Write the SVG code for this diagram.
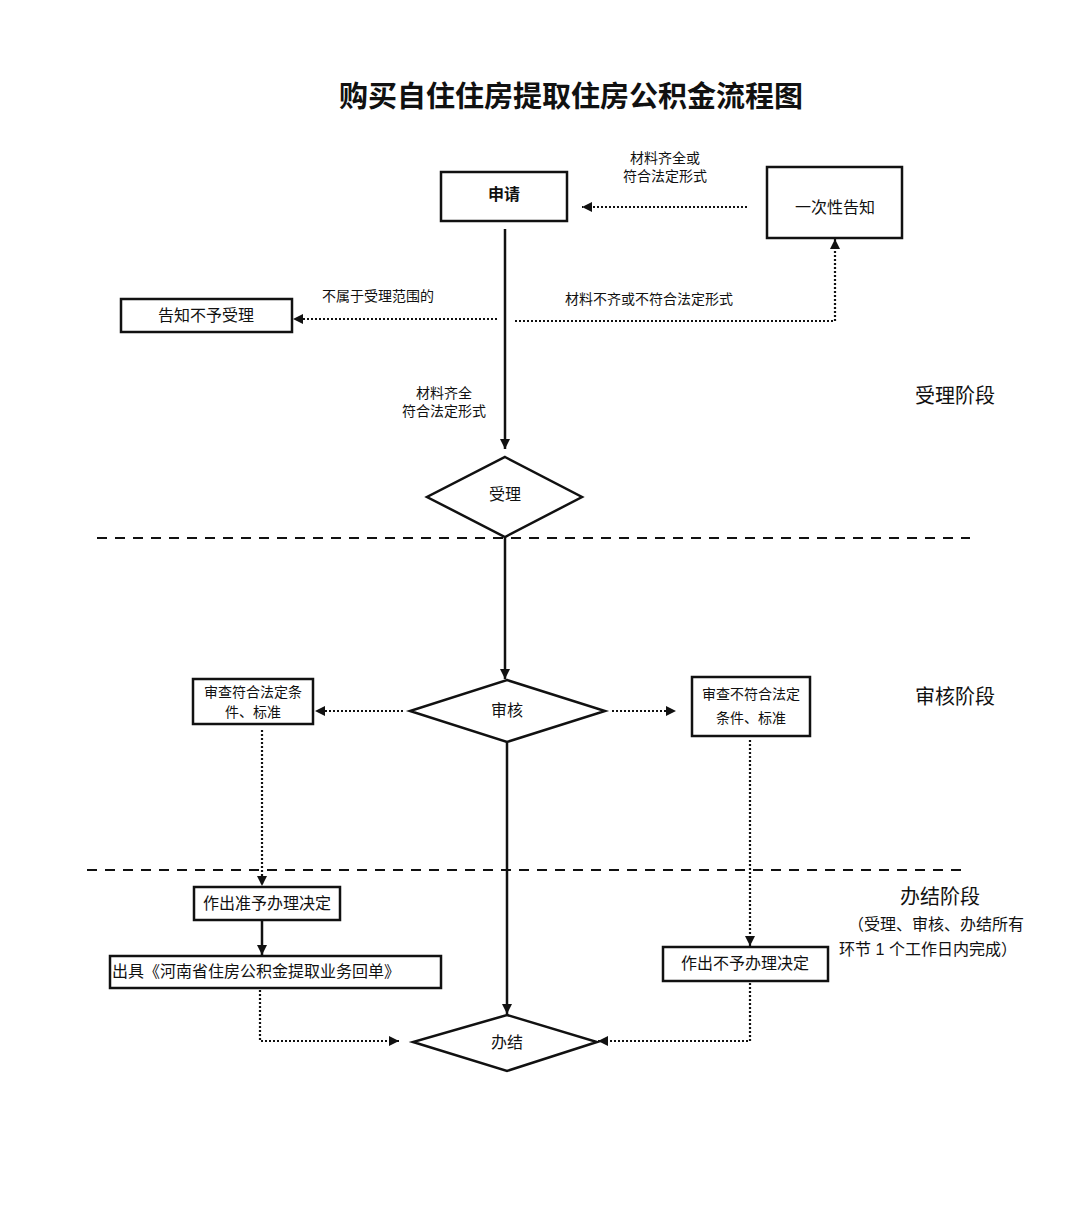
<svg xmlns="http://www.w3.org/2000/svg" width="1080" height="1220" viewBox="0 0 1080 1220">
<style>
text{font-family:"Liberation Sans","Noto Sans CJK SC",sans-serif;fill:#111;text-anchor:middle;dominant-baseline:central}
.box{fill:#fff;stroke:#111;stroke-width:2.5}
.dia{fill:#fff;stroke:#111;stroke-width:2.5}
.solid{fill:none;stroke:#111;stroke-width:2.5}
.dot{fill:none;stroke:#111;stroke-width:2.2;stroke-dasharray:2 2}
.dash{fill:none;stroke:#111;stroke-width:2.2;stroke-dasharray:10 8}
.t{font-size:16px}
.m{font-size:14px}
.s{font-size:14px}
.ph{font-size:20px}
</style>
<defs>
<marker id="ah" viewBox="0 0 10 10" refX="10" refY="5" markerWidth="10" markerHeight="10" markerUnits="userSpaceOnUse" orient="auto">
<path d="M0,0 L10,5 L0,10 z" fill="#111"/>
</marker>
</defs>
<rect width="1080" height="1220" fill="#fff"/>
<text x="571" y="97" style="font-size:29px;font-weight:bold">购买自住住房提取住房公积金流程图</text>

<g id="phases">
<path class="dash" d="M97,538 H970"/>
<path class="dash" d="M87,870 H965"/>
<text class="ph" x="955" y="396">受理阶段</text>
<text class="ph" x="955" y="697">审核阶段</text>
<text class="ph" x="940" y="897">办结阶段</text>
<text class="t" x="936" y="924">（受理、审核、办结所有</text>
<text class="t" x="928" y="949">环节 1 个工作日内完成）</text>
</g>

<g id="connectors">
<path class="solid" d="M505,229 V449" marker-end="url(#ah)"/>
<path class="dot" d="M747,207 H582" marker-end="url(#ah)"/>
<path class="dot" d="M497,319 H293" marker-end="url(#ah)"/>
<path class="dot" d="M515,321 H835 V239" marker-end="url(#ah)"/>
<path class="solid" d="M505,537 V679" marker-end="url(#ah)"/>
<path class="dot" d="M403,711 H315" marker-end="url(#ah)"/>
<path class="dot" d="M612,711 H676" marker-end="url(#ah)"/>
<path class="dot" d="M262,730 V886" marker-end="url(#ah)"/>
<path class="solid" d="M262,920 V955" marker-end="url(#ah)"/>
<path class="dot" d="M260,990 V1041 H399" marker-end="url(#ah)"/>
<path class="solid" d="M507,742 V1014" marker-end="url(#ah)"/>
<path class="dot" d="M750,740 V946" marker-end="url(#ah)"/>
<path class="dot" d="M750,983 V1041 H598" marker-end="url(#ah)"/>
<text class="s" x="665" y="158">材料齐全或</text>
<text class="s" x="665" y="176">符合法定形式</text>
<text class="s" x="378" y="296">不属于受理范围的</text>
<text class="s" x="649" y="299">材料不齐或不符合法定形式</text>
<text class="s" x="444" y="393">材料齐全</text>
<text class="s" x="444" y="411">符合法定形式</text>
</g>

<g id="n-apply">
<rect class="box" x="441" y="172" width="126" height="49"/>
<text class="t" x="504" y="194" style="font-weight:bold">申请</text>
</g>
<g id="n-notice">
<rect class="box" x="767" y="167" width="135" height="71"/>
<text class="t" x="835" y="207">一次性告知</text>
</g>
<g id="n-reject">
<rect class="box" x="121" y="299" width="171" height="33"/>
<text class="t" x="206" y="315">告知不予受理</text>
</g>
<g id="n-accept">
<polygon class="dia" points="505,457 582,497 505,537 427,497"/>
<text class="t" x="505" y="494">受理</text>
</g>
<g id="n-review">
<polygon class="dia" points="507,680 605,711 507,742 410,711"/>
<text class="t" x="507" y="710">审核</text>
</g>
<g id="n-pass">
<rect class="box" x="193" y="679" width="120" height="45"/>
<text class="m" x="253" y="692">审查符合法定条</text>
<text class="m" x="253" y="712">件、标准</text>
</g>
<g id="n-fail">
<rect class="box" x="692" y="677" width="118" height="59"/>
<text class="m" x="751" y="694">审查不符合法定</text>
<text class="m" x="751" y="718">条件、标准</text>
</g>
<g id="n-approve">
<rect class="box" x="194" y="887" width="146" height="33"/>
<text class="t" x="267" y="903">作出准予办理决定</text>
</g>
<g id="n-receipt">
<rect class="box" x="110" y="956" width="331" height="32"/>
<text class="t" x="112" y="971" style="text-anchor:start">出具《河南省住房公积金提取业务回单》</text>
</g>
<g id="n-deny">
<rect class="box" x="663" y="947" width="165" height="34"/>
<text class="t" x="745" y="963">作出不予办理决定</text>
</g>
<g id="n-done">
<polygon class="dia" points="507,1015 597,1042 507,1071 413,1042"/>
<text class="t" x="507" y="1042">办结</text>
</g>
</svg>
